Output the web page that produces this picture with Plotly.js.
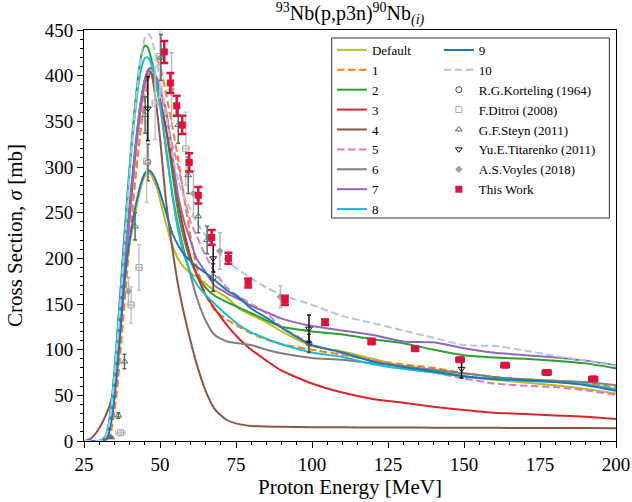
<!DOCTYPE html>
<html>
<head>
<meta charset="utf-8">
<script src="https://cdn.plot.ly/plotly-3.0.1.min.js"></script>
<style>html,body{margin:0;padding:0;background:#fff;}#chart{width:632px;height:502px;}</style>
</head>
<body>
<div id="chart"></div>
<script>
// ---------- model curves (common energy grid, MeV) ----------
const energyGrid = [25,27,29,30,31,32,33,34,35,36,37,38,39,40,41,42,43,44,45,46,47,48,49,50,52,54,56,58,60,62,65,68,72,76,80,85,90,100,110,120,130,140,150,160,170,180,190,200];

const yDefault = [0,0,0,0,0.5,2,7,22,48,82,120,160,192,215,234,252,268,281,290,293,292,285,277,264,238,215,199,190,184,180,172,165,157,145,138,130,120,104,98,90,82,77,71,67,64,61,57,52];
const y1 = [0,0,0,0,0,0.5,3,12,32,60,97,138,178,218,255,290,322,350,373,393,407,415,417,410,380,345,308,265,225,192,160,143,133,125,118,111,106,100,94.5,88,84,80,74.5,70,67.5,66,63,59];
const y2 = [0,0,0,0.3,1.5,5,16,40,76,120,165,212,258,300,340,375,404,424,433,431,420,405,387,370,340,295,250,220,198,183,168,159,152,146,140,132,125,120,116.5,111.5,107,100,94,91.5,90,88,85,79.5];
const y3 = [0,0,0,0,0.5,2,8,25,50,85,125,168,208,248,283,318,348,372,390,400,403,398,388,375,342,305,262,228,202,183,160,145,127,112,100,88,77,63,53,46,42,37.5,34,31,29.5,28,26.5,24];
const y4 = [0,2,9,14,20,27,35,45,63,98,138,180,220,258,292,325,355,378,395,405,404,388,362,332,262,212,170,138,110,85,55,35,23,18.5,16.5,15.8,15.5,15,15,14.8,14.7,14.6,14.5,14.4,14.3,14.2,14.1,14];
const y5 = [0,0,0,0,0.3,1.5,6,20,44,78,118,160,200,240,276,310,340,365,385,400,407,406,398,385,355,325,300,268,240,225,203,185,168,158,150,140,125,106,96,88,81,75,68.5,63,60.5,59,55.5,50.5];
const y6 = [0,0,0,0,0.5,2,8,25,50,86,127,170,210,250,286,320,350,375,395,406,409,404,392,370,318,272,236,207,182,158,132,116,109,107,105,100,96,91,89,85,82,78,74,70,67.5,66,64.5,61];
const y7 = [0,0,0,0,0.5,2,8,26,52,88,130,173,214,254,290,324,353,377,395,405,408,404,396,385,362,315,268,240,220,200,185,170,162,155,148,141,134,126,121,116,109,108,101.5,96.5,94,91.5,88,83];
const y8 = [0,0,0,0.3,1.5,5,16,40,75,118,162,208,252,295,332,365,392,410,419,420,414,402,386,368,322,270,230,203,185,172,160,150,138,127,119,112,106,97,92,84,79,75,70.5,68,66,64.5,62,57];
const y9 = [0,0,0,0,0.5,2,7,22,48,82,122,163,196,220,240,258,273,285,293,296,295,290,282,272,250,228,214,204,197,191,184,176,165,157,145,135,124,105,97,87,81,76,71,68,66.5,64.5,61,55];
const y10 = [0,0,0,0.3,1.2,4,13,35,68,108,152,198,244,290,332,370,402,426,441,446,442,430,414,397,358,315,285,266,254,240,225,212,197,187,178,168,160,149,137,129,121,113,105,104,99,93,88,82];

const modelNames = ["Default","1","2","3","4","5","6","7","8","9","10"];
const modelColors = ["#bcbd22","#ff7f0e","#2ca02c","#d62728","#8c564b","#e377c2","#7f7f7f","#9467bd","#17becf","#1f77b4","#aec7e8"];
const modelDashed = [false,true,false,false,false,true,false,false,false,false,true];
const modelValues = [yDefault,y1,y2,y3,y4,y5,y6,y7,y8,y9,y10];

// ---------- experimental data ----------
const kortelingE = [46.0, 67.5, 99.0];
const kortelingS = [305, 179, 107];
const kortelingErr = [20, 15, 10];

const ditroiE = [37.0, 40.5, 43.1, 45.6, 48.4, 50.0, 58.5];
const ditroiS = [9, 149, 190, 306, 370, 421, 320];
const ditroiErr = [2, 20, 25, 45, 40, 45, 40];
const ditroiErrX = [1.5, 1.0, 1.0, 1.0, 1.0, 1.0, 1.0];

const steynE = [33.9, 36.3, 38.3, 41.8, 45.1, 50.3, 56.0, 59.3, 62.6, 65.5];
const steynS = [4, 28, 87, 235, 357, 420, 346, 291, 246, 220];
const steynErr = [1, 3, 8, 15, 20, 25, 20, 20, 18, 15];

const titarenkoE = [46.0, 67.5, 99.0, 149.2];
const titarenkoS = [364, 200, 123, 79];
const titarenkoErr = [35, 15, 15, 10];

const voylesE = [39.6, 53.8, 61.0, 69.7, 89.6];
const voylesS = [164, 385, 271, 208, 158];
const voylesErr = [15, 40, 25, 20, 12];

const thisWorkE = [51.4, 53.4, 55.5, 57.3, 59.6, 62.6, 67.0, 72.5, 79.0, 91.1, 104.3, 119.6, 133.9, 148.7, 163.5, 177.2, 192.5];
const thisWorkS = [426, 392, 367, 346, 305, 269, 223, 200, 173, 154, 130, 109, 101, 89, 83, 75, 68];
const thisWorkErr = [12, 11, 11, 10, 10, 9, 8, 6, 5, 5, 3, 3, 2, 2, 2, 2, 2];
const thisWorkErrX = [0.6, 0.6, 0.6, 0.6, 0.6, 0.6, 0.7, 0.7, 0.7, 0.8, 0.8, 1.0, 1.0, 1.2, 1.2, 1.3, 1.3];

// ---------- build traces ----------
const traces = [];
modelNames.forEach((nm, i) => {
  traces.push({
    x: energyGrid, y: modelValues[i], name: nm, type: 'scatter', mode: 'lines',
    line: {color: modelColors[i], width: 2, shape: 'spline', smoothing: 0.6, dash: modelDashed[i] ? '7.5px,3.5px' : 'solid'},
    legend: i < 9 ? 'legend' : 'legend2'
  });
});

function expTrace(name, xs, ys, ey, color, symbol, size, lineColor, ex, barColor) {
  const t = {
    x: xs, y: ys, name: name, type: 'scatter', mode: 'markers', legend: 'legend2',
    marker: {symbol: symbol, size: size, color: color, line: {color: lineColor || color, width: 1}},
    error_y: {type: 'data', array: ey, visible: true, color: barColor || color, thickness: 1.5, width: 2}
  };
  if (ex) t.error_x = {type: 'data', array: ex, visible: true, color: barColor || color, thickness: 1.5, width: 2};
  return t;
}
traces.push(expTrace('R.G.Korteling (1964)', kortelingE, kortelingS, kortelingErr, '#444444', 'circle-open', 6));
traces.push(expTrace('F.Ditroi (2008)', ditroiE, ditroiS, ditroiErr, '#aaaaaa', 'square-open', 6, null, ditroiErrX, '#c8c8c8'));
traces.push(expTrace('G.F.Steyn (2011)', steynE, steynS, steynErr, '#4f6f6f', 'triangle-up-open', 6));
traces.push(expTrace('Yu.E.Titarenko (2011)', titarenkoE, titarenkoS, titarenkoErr, '#111111', 'triangle-down-open', 6));
traces.push(expTrace('A.S.Voyles (2018)', voylesE, voylesS, voylesErr, '#a0a0a0', 'diamond', 5, null, null, '#b8b8b8'));
traces.push({
  x: thisWorkE, y: thisWorkS, name: 'This Work', type: 'scatter', mode: 'markers', legend: 'legend2',
  marker: {symbol: 'square', size: 7, color: '#dc143c'},
  error_y: {type: 'data', array: thisWorkErr, visible: true, color: '#dc143c', thickness: 2.5, width: 4},
  error_x: {type: 'data', array: thisWorkErrX, visible: true, color: '#dc143c', thickness: 2.5, width: 3}
});

const SERIF = 'Liberation Serif';
const axisCommon = {
  showline: true, linecolor: '#000', linewidth: 1, mirror: true,
  ticks: 'outside', ticklen: 6, tickwidth: 1, tickcolor: '#000',
  showgrid: false, zeroline: false,
  tickfont: {family: SERIF, size: 19, color: '#000'}
};

const layout = {
  width: 632, height: 502,
  margin: {l: 84, r: 16, t: 30, b: 61},
  paper_bgcolor: '#fff', plot_bgcolor: '#fff',
  font: {family: SERIF, color: '#000'},
  showlegend: true,
  title: {text: '<sup>93</sup>Nb(p,p3n)<sup>90</sup>Nb<sub><i>(i)</i></sub>', font: {family: SERIF, size: 20, color: '#000'},
          x: 0.5, xref: 'paper', y: 0.974, yref: 'container', yanchor: 'middle'},
  xaxis: Object.assign({}, axisCommon, {
    range: [25, 200], tick0: 25, dtick: 25,
    minor: {dtick: 5, ticks: 'outside', ticklen: 3, tickcolor: '#000'},
    title: {text: 'Proton Energy [MeV]', font: {family: SERIF, size: 21, color: '#000'}, standoff: 4}
  }),
  yaxis: Object.assign({}, axisCommon, {
    range: [0, 450], tick0: 0, dtick: 50,
    minor: {dtick: 10, ticks: 'outside', ticklen: 3, tickcolor: '#000'},
    title: {text: 'Cross Section, <i>σ</i> [mb]', font: {family: SERIF, size: 21, color: '#000'}, standoff: 16}
  }),
  legend: {x: 0.466, y: 0.988, xanchor: 'left', yanchor: 'top', bgcolor: 'rgba(0,0,0,0)', borderwidth: 0,
           font: {family: SERIF, size: 13, color: '#000'}, tracegroupgap: 0, itemwidth: 30},
  legend2: {x: 0.667, y: 0.988, xanchor: 'left', yanchor: 'top', bgcolor: 'rgba(0,0,0,0)', borderwidth: 0,
            font: {family: SERIF, size: 13, color: '#000'}, tracegroupgap: 0, itemwidth: 30},
  shapes: [{
    type: 'rect', xref: 'paper', yref: 'paper', x0: 0.4656, x1: 0.9875, y0: 0.5426, y1: 0.9805,
    line: {color: '#333', width: 1}, fillcolor: 'rgba(255,255,255,0.8)', layer: 'below'
  }]
};

Plotly.newPlot('chart', traces, layout, {displayModeBar: false, staticPlot: true});
</script>
</body>
</html>
